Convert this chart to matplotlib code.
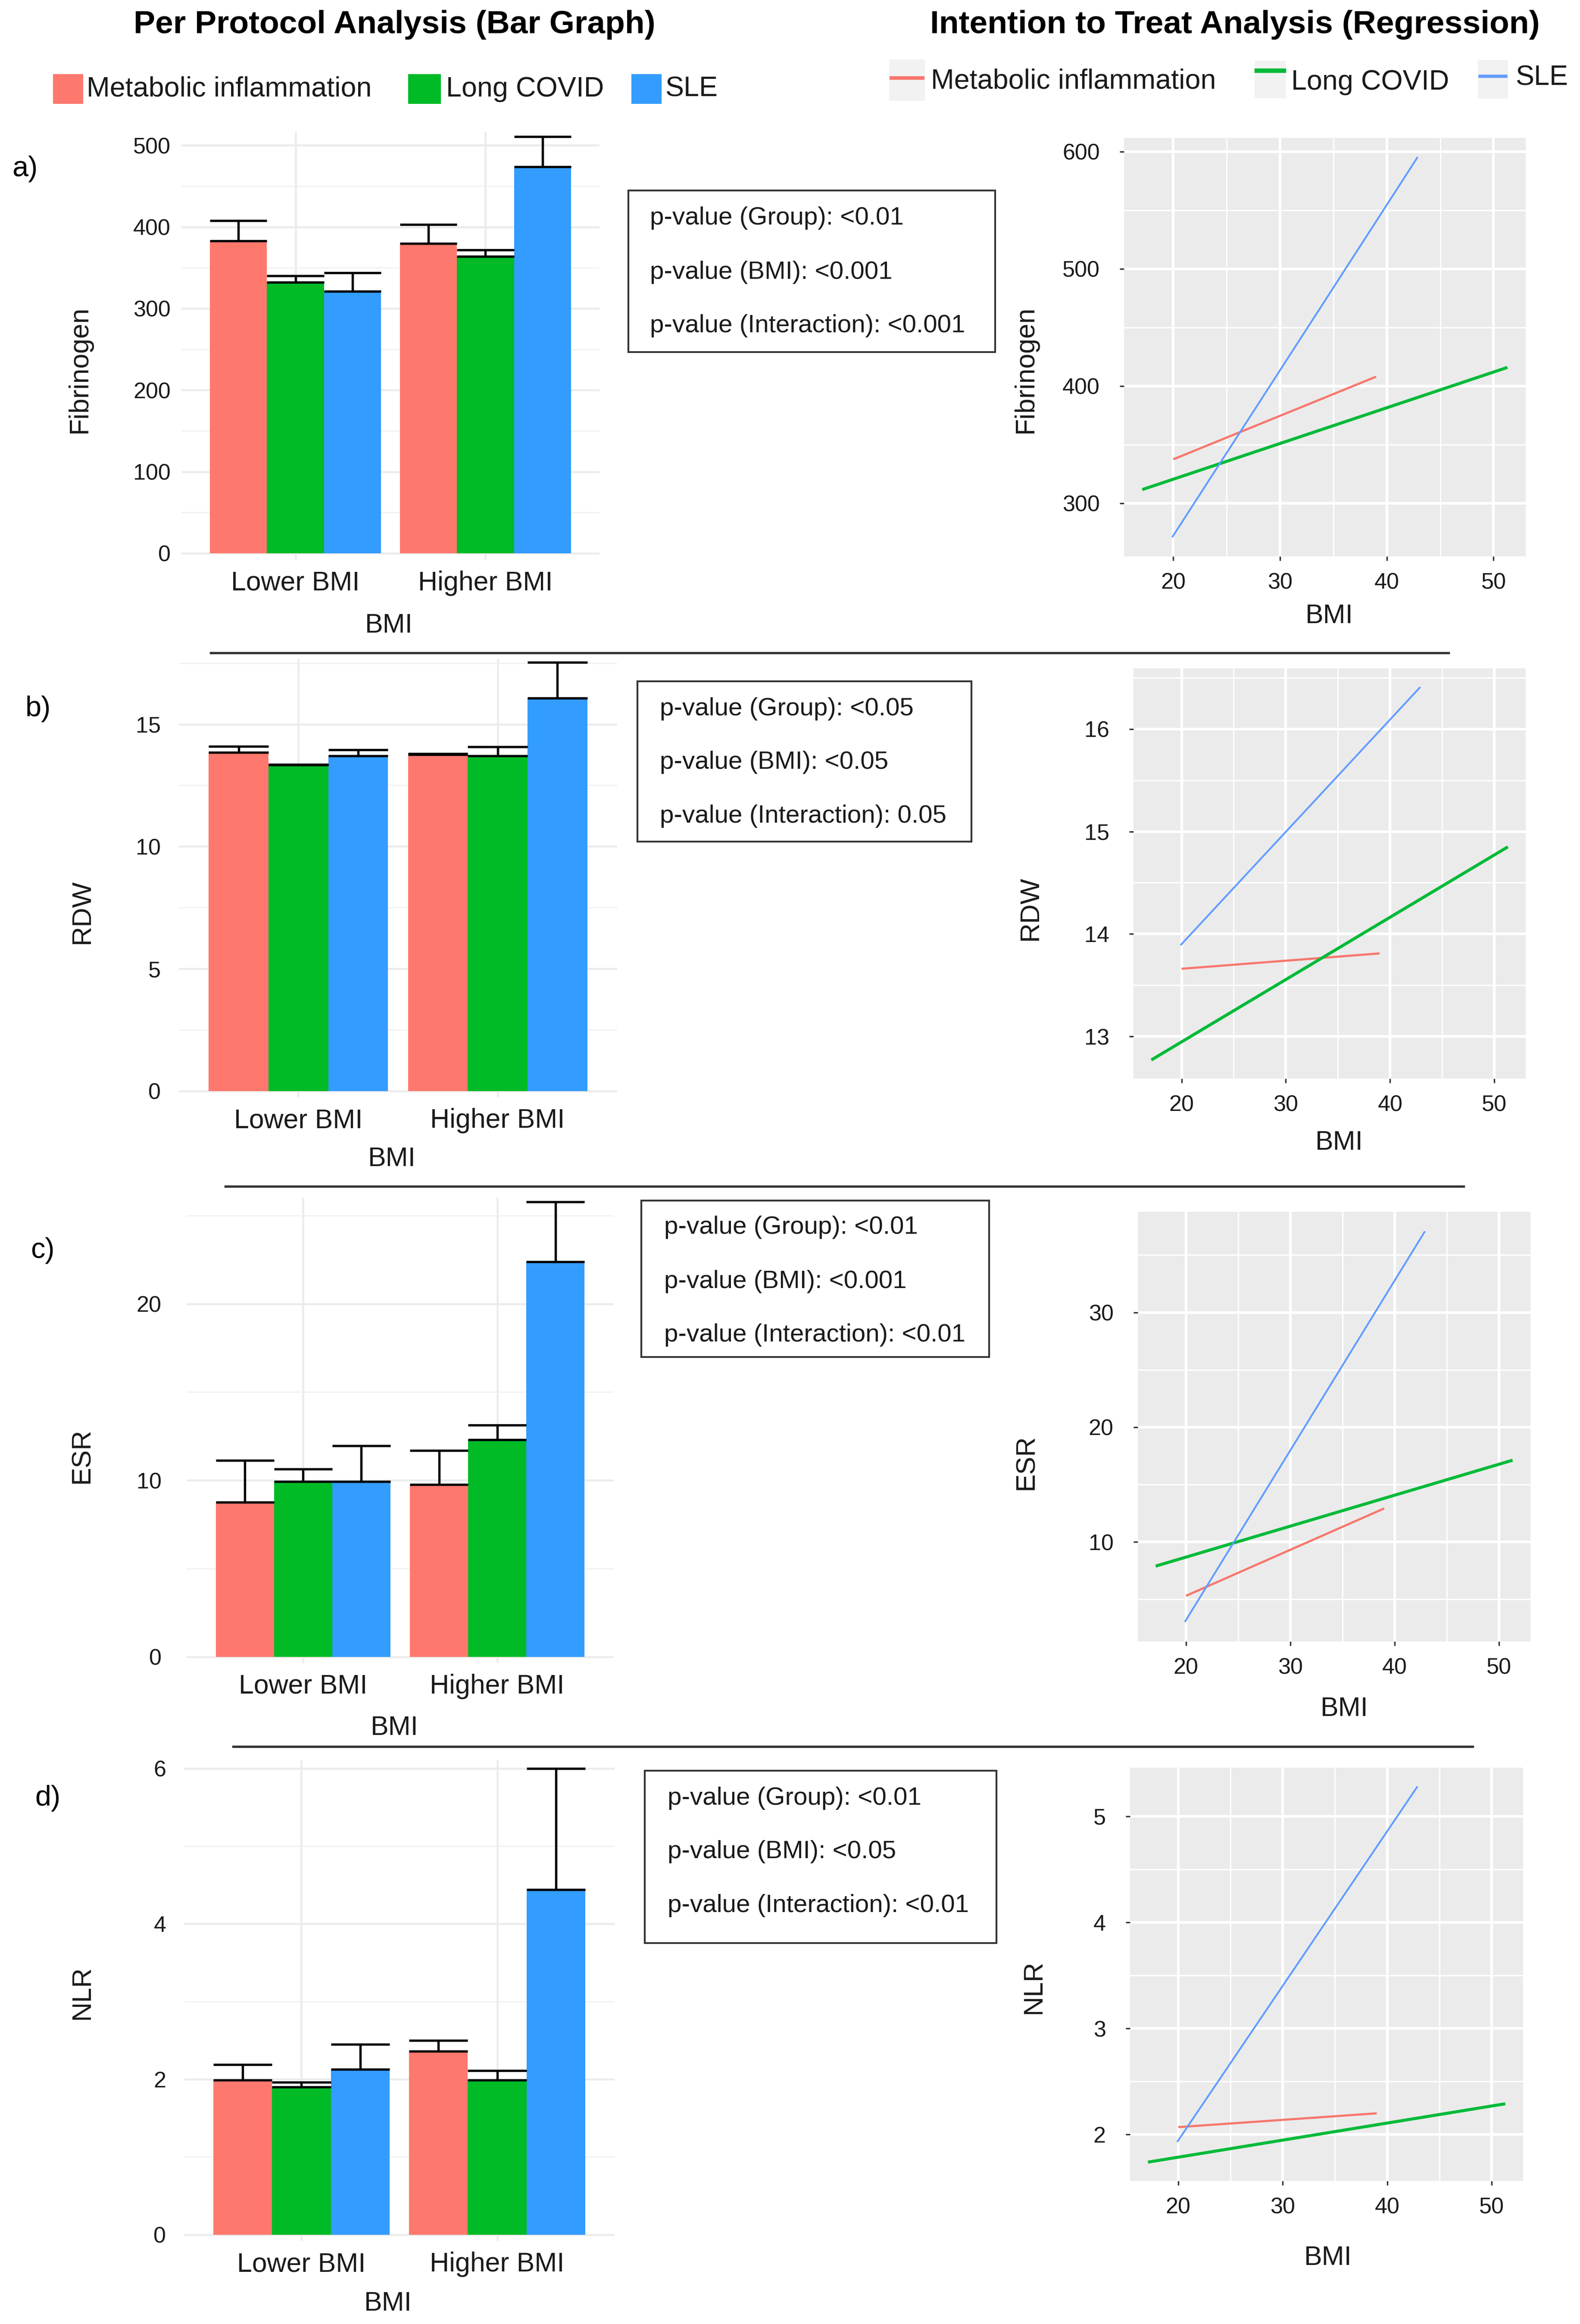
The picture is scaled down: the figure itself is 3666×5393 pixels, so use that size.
import matplotlib
matplotlib.use("Agg")
import matplotlib.pyplot as plt
import numpy as np
from matplotlib.patches import Rectangle
from matplotlib.lines import Line2D
from matplotlib.transforms import Affine2D
from matplotlib.ticker import MultipleLocator, FormatStrFormatter

plt.rcParams['font.family'] = ['Liberation Sans', 'DejaVu Sans']

W, H = 3666, 5393
DPI = 300

groups = ["Lower BMI", "Higher BMI"]
series = ["Metabolic inflammation", "Long COVID", "SLE"]
measures = ["Fibrinogen", "RDW", "ESR", "NLR"]
bar_colors = ["#FF786E", "#00BA26", "#339CFF"]
line_colors = ["#F8766D", "#00BA38", "#619CFF"]

# bar graph values: mean and upper error per series (Metabolic, Long COVID, SLE)
fib_lower = [383, 332, 321]
fib_lower_err = [25, 8, 23]
fib_higher = [380, 364, 474]
fib_higher_err = [23, 8, 37]

rdw_lower = [13.85, 13.33, 13.70]
rdw_lower_err = [0.24, 0.03, 0.25]
rdw_higher = [13.76, 13.71, 16.07]
rdw_higher_err = [0.04, 0.37, 1.46]

esr_lower = [8.76, 9.92, 9.92]
esr_lower_err = [2.37, 0.71, 2.05]
esr_higher = [9.77, 12.31, 22.39]
esr_higher_err = [1.91, 0.82, 3.39]

nlr_lower = [1.99, 1.90, 2.13]
nlr_lower_err = [0.20, 0.06, 0.32]
nlr_higher = [2.36, 1.99, 4.44]
nlr_higher_err = [0.14, 0.12, 1.56]

# regression lines: BMI range and fitted values at both ends
bmi_start = [20.0, 17.1, 19.9]
bmi_end = [39.0, 51.3, 42.9]
fib_fit_start = [337.5, 311.7, 271.0]
fib_fit_end = [408.0, 415.9, 595.4]
rdw_fit_start = [13.66, 12.77, 13.89]
rdw_fit_end = [13.81, 14.85, 16.41]
esr_fit_start = [5.30, 7.89, 3.03]
esr_fit_end = [12.92, 17.12, 37.07]
nlr_fit_start = [2.07, 1.74, 1.93]
nlr_fit_end = [2.20, 2.29, 5.28]

pvalues = [
    ["p-value (Group): <0.01", "p-value (BMI): <0.001", "p-value (Interaction): <0.001"],
    ["p-value (Group): <0.05", "p-value (BMI): <0.05", "p-value (Interaction): 0.05"],
    ["p-value (Group): <0.01", "p-value (BMI): <0.001", "p-value (Interaction): <0.01"],
    ["p-value (Group): <0.01", "p-value (BMI): <0.05", "p-value (Interaction): <0.01"],
]
panel_letters = ["a)", "b)", "c)", "d)"]

bar_data = [
    (fib_lower, fib_lower_err, fib_higher, fib_higher_err),
    (rdw_lower, rdw_lower_err, rdw_higher, rdw_higher_err),
    (esr_lower, esr_lower_err, esr_higher, esr_higher_err),
    (nlr_lower, nlr_lower_err, nlr_higher, nlr_higher_err),
]
fit_data = [
    (fib_fit_start, fib_fit_end),
    (rdw_fit_start, rdw_fit_end),
    (esr_fit_start, esr_fit_end),
    (nlr_fit_start, nlr_fit_end),
]

# layout, in pixels of the reference picture
bar_rects = [(421, 306, 1391, 1299), (415, 1529, 1432, 2546),
             (433, 2780, 1424, 3859), (427, 4084, 1426, 5200)]
bar_ylims = [(-8, 516.6), (-0.25, 17.67), (-0.35, 26.0), (-0.08, 6.11)]
bar_major = [100, 5, 10, 2]
bar_ypad = [6, 10, 14, 10]
line_rects = [(2608, 320, 3540, 1291), (2630, 1551, 3540, 2503),
              (2640, 2812, 3551, 3809), (2622, 4102, 3534, 5061)]
line_major = [100, 1, 10, 1]
line_widths = [1.2, 1.7, 1.0]

bar_ylabel_pos = [(184, 857), (190, 2115), (190, 3378), (190, 4623)]
bar_xlabel_pos = [(902, 1452), (909, 2689), (915, 4010), (900, 5345)]
line_ylabel_pos = [(2379, 857), (2390, 2107), (2381, 3393), (2398, 4610)]
line_xlabel_pos = [(3084, 1430), (3107, 2652), (3119, 3966), (3081, 5239)]
letter_pos = [(58, 392), (88, 1645), (99, 2902), (111, 4173)]
pbox_rects = [(1458, 442, 2309, 817), (1479, 1581, 2254, 1953),
              (1488, 2786, 2295, 3149), (1496, 4109, 2312, 4509)]
ptext_x = [1508, 1531, 1541, 1549]
ptext_y = [[506, 632, 756], [1645, 1769, 1894], [2848, 2974, 3098], [4173, 4297, 4422]]
separators = [(489, 3361, 1515), (523, 3396, 2753), (541, 3417, 4053)]


def px_rect(x0, y0, x1, y1):
    return [x0 / W, 1 - y1 / H, (x1 - x0) / W, (y1 - y0) / H]


fig = plt.figure(figsize=(W / DPI, H / DPI), dpi=DPI)
px = Affine2D().scale(1 / W, -1 / H).translate(0, 1) + fig.transFigure

text_col = "#1a1a1a"
x = np.arange(len(groups)) + 1.0
offsets = [-0.3, 0.0, 0.3]
bw = 0.3

for k in range(4):
    # ---- bar graph
    ax = fig.add_axes(px_rect(*bar_rects[k]))
    lower, lower_err, higher, higher_err = bar_data[k]
    for i in range(len(series)):
        xs = x + offsets[i]
        m = np.array([lower[i], higher[i]])
        e = np.array([lower_err[i], higher_err[i]])
        ax.bar(xs, m, width=bw, color=bar_colors[i], zorder=2)
        ax.vlines(xs, m, m + e, color="black", lw=1.3, zorder=3)
        ax.hlines(m, xs - bw / 2, xs + bw / 2, color="black", lw=1.3, zorder=3)
        ax.hlines(m + e, xs - bw / 2, xs + bw / 2, color="black", lw=1.3, zorder=3)
    ax.set_xlim(0.4, 2.6)
    ax.set_ylim(*bar_ylims[k])
    ax.set_xticks(x, groups)
    ax.yaxis.set_major_locator(MultipleLocator(bar_major[k]))
    ax.yaxis.set_minor_locator(MultipleLocator(bar_major[k] / 2))
    ax.yaxis.set_major_formatter(FormatStrFormatter('%g'))
    ax.grid(which="major", color="#EBEBEB", lw=1.1, zorder=0)
    ax.grid(which="minor", axis="y", color="#F0F0F0", lw=0.6, zorder=0)
    ax.set_axisbelow(True)
    for s in ax.spines.values():
        s.set_visible(False)
    ax.tick_params(axis="x", which="both", length=0, pad=6, labelsize=15, labelcolor=text_col)
    ax.tick_params(axis="y", which="both", length=0, pad=bar_ypad[k], labelsize=12.5, labelcolor=text_col)

    fig.text(*bar_ylabel_pos[k], measures[k], transform=px, rotation=90,
             ha="center", va="center", fontsize=15, color=text_col)
    fig.text(*bar_xlabel_pos[k], "BMI", transform=px, ha="center", va="center",
             fontsize=15, color=text_col)

    # ---- regression
    ax2 = fig.add_axes(px_rect(*line_rects[k]))
    ax2.set_facecolor("#EBEBEB")
    fs, fe = fit_data[k]
    for i in range(len(series)):
        ax2.plot([bmi_start[i], bmi_end[i]], [fs[i], fe[i]],
                 color=line_colors[i], lw=line_widths[i], solid_capstyle="butt")
    ax2.margins(0.05)
    ax2.xaxis.set_major_locator(MultipleLocator(10))
    ax2.xaxis.set_minor_locator(MultipleLocator(5))
    ax2.yaxis.set_major_locator(MultipleLocator(line_major[k]))
    ax2.yaxis.set_minor_locator(MultipleLocator(line_major[k] / 2))
    ax2.yaxis.set_major_formatter(FormatStrFormatter('%g'))
    ax2.grid(which="major", color="white", lw=1.5)
    ax2.grid(which="minor", color="white", lw=0.75)
    ax2.set_axisbelow(True)
    for s in ax2.spines.values():
        s.set_visible(False)
    ax2.tick_params(which="minor", length=0)
    ax2.tick_params(axis="y", which="major", length=2.5, width=0.8, color="#333333",
                    pad=11, labelsize=12.5, labelcolor=text_col)
    ax2.tick_params(axis="x", which="major", length=2.5, width=0.8, color="#333333",
                    pad=6.5, labelsize=12.5, labelcolor=text_col)

    fig.text(*line_ylabel_pos[k], measures[k], transform=px, rotation=90,
             ha="center", va="center", fontsize=15, color=text_col)
    fig.text(*line_xlabel_pos[k], "BMI", transform=px, ha="center", va="center",
             fontsize=15, color=text_col)

    # ---- p-value box
    bx0, by0, bx1, by1 = pbox_rects[k]
    fig.add_artist(Rectangle((bx0, by0), bx1 - bx0, by1 - by0, transform=px,
                             fill=False, edgecolor="#333333", lw=1.0))
    for j, line in enumerate(pvalues[k]):
        fig.text(ptext_x[k], ptext_y[k][j], line, transform=px, ha="left",
                 va="center", fontsize=14, color=text_col)

    fig.text(*letter_pos[k], panel_letters[k], transform=px, ha="center",
             va="center", fontsize=16, color="black")

# separators between rows
for x0, x1, y in separators:
    fig.add_artist(Line2D([x0, x1], [y, y], transform=px, color="#333333", lw=1.3))

# titles
fig.text(915, 57, "Per Protocol Analysis (Bar Graph)", transform=px, ha="center",
         va="center", fontsize=18, fontweight="bold")
fig.text(2865, 57, "Intention to Treat Analysis (Regression)", transform=px,
         ha="center", va="center", fontsize=18, fontweight="bold")

# legend for bar graph
sq = [(123, 172, 193, 241), (947, 172, 1023, 241), (1465, 172, 1535, 241)]
sq_text = [(201, 207), (1035, 207), (1543, 207)]
for i, name in enumerate(series):
    x0, y0, x1, y1 = sq[i]
    fig.add_artist(Rectangle((x0, y0), x1 - x0, y1 - y0, transform=px,
                             color=bar_colors[i], lw=0))
    fig.text(*sq_text[i], name, transform=px, ha="left", va="center",
             fontsize=15.5, color=text_col)

# legend for regression
keys = [(2063, 138, 2146, 234), (2911, 141, 2984, 228), (3429, 139, 3499, 229)]
key_line_y = [181, 164, 177]
key_text = [(2160, 188), (2996, 191), (3516, 181)]
for i, name in enumerate(series):
    x0, y0, x1, y1 = keys[i]
    fig.add_artist(Rectangle((x0, y0), x1 - x0, y1 - y0, transform=px,
                             color="#F2F2F2", lw=0))
    fig.add_artist(Line2D([x0 + 5, x1 - 5], [key_line_y[i]] * 2, transform=px,
                          color=line_colors[i], lw=line_widths[i] + 0.8))
    fig.text(*key_text[i], name, transform=px, ha="left", va="center",
             fontsize=15.5, color=text_col)

fig.savefig("out.png", dpi=DPI)
